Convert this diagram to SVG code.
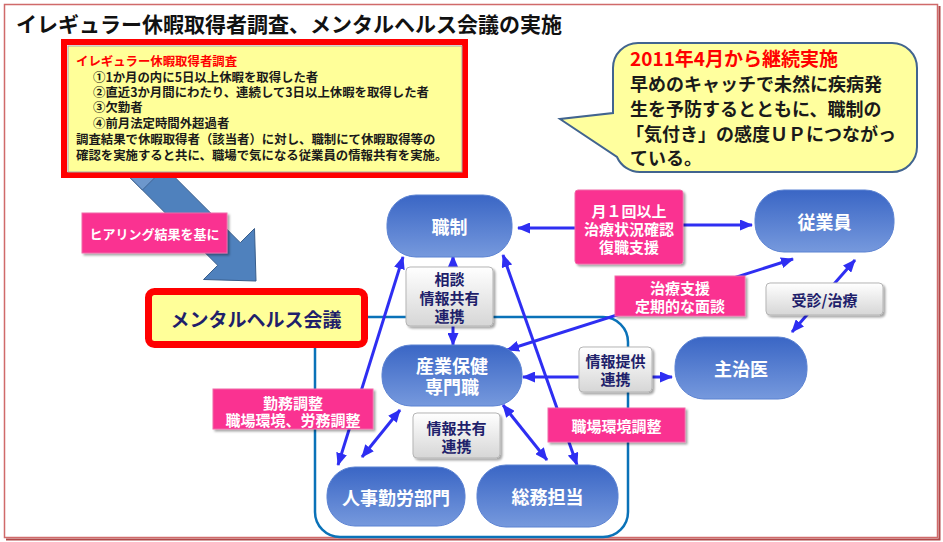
<svg xmlns="http://www.w3.org/2000/svg" width="943" height="542" viewBox="0 0 943 542">
<defs>
<style>
text{font-family:"Noto Sans CJK JP","Noto Sans",sans-serif;font-weight:bold;dominant-baseline:central}
.node rect{fill:url(#ng);stroke:#5b82d2;stroke-width:1}
.node text{fill:#fff;font-size:18px;text-anchor:middle}
.pink rect{fill:#fa3391;stroke:#f06aa8;stroke-width:1;filter:url(#sh)}
.pink text{fill:#fff;font-size:15px;text-anchor:middle}
.gray rect{fill:url(#gg);stroke:#b5b5b5;stroke-width:1;filter:url(#sh)}
.gray text{fill:#1f1f6b;font-size:15px;text-anchor:middle}
.conn line{stroke:#2e2ef2;stroke-width:3;fill:none}
.sv{font-size:12.4px;fill:#1a1a1a}
.co{font-size:18px;fill:#1a1a1a}
</style>
<linearGradient id="ng" x1="0" y1="0" x2="0" y2="1">
<stop offset="0" stop-color="#3a66c5"/>
<stop offset="1" stop-color="#7699dd"/>
</linearGradient>
<linearGradient id="gg" x1="0" y1="0" x2="0" y2="1">
<stop offset="0" stop-color="#ffffff"/>
<stop offset="1" stop-color="#d6d6d6"/>
</linearGradient>
<filter id="sh" x="-10%" y="-10%" width="130%" height="140%">
<feDropShadow dx="2" dy="2" stdDeviation="1" flood-color="#000" flood-opacity="0.35"/>
</filter>
<marker id="ah" viewBox="0 0 13 11" refX="12" refY="5.5" markerWidth="13" markerHeight="11" orient="auto-start-reverse" markerUnits="userSpaceOnUse">
<path d="M0,0 L13,5.5 L0,11 Z" fill="#2e2ef2"/>
</marker>
</defs>

<rect x="0" y="0" width="943" height="542" fill="#fff"/>
<!-- outer frame -->
<rect x="4.5" y="4.5" width="933" height="533" fill="none" stroke="#d06a6a" stroke-width="1.5"/>
<polyline points="939.5,6 939.5,539.5 6,539.5" fill="none" stroke="#b04848" stroke-width="2"/>

<text x="16" y="23" font-size="21" fill="#111">イレギュラー休暇取得者調査、メンタルヘルス会議の実施</text>

<!-- big blue arrow -->
<g id="big-arrow">
<polygon points="150.3,152.7 240.3,242.7 254.5,228.5 256,281 203.5,279.5 217.7,265.3 127.7,175.3" fill="#4f81bd" stroke="#385d8a" stroke-width="1"/>
<polygon points="150.3,152.7 165,167.4 142.4,190 127.7,175.3" fill="#6d97cc" stroke="#385d8a" stroke-width="0.8"/>
</g>

<!-- survey box -->
<g id="n-survey">
<rect x="64" y="42" width="401" height="133" fill="#fff" stroke="#ff0000" stroke-width="6"/>
<rect x="68" y="46" width="394" height="126" fill="#ffff99" stroke="#a6a6a6" stroke-width="1"/>
<text x="76" y="61" class="sv" style="fill:#ff0000">イレギュラー休暇取得者調査</text>
<text x="93" y="77" class="sv">①1か月の内に5日以上休暇を取得した者</text>
<text x="93" y="92" class="sv">②直近3か月間にわたり、連続して3日以上休暇を取得した者</text>
<text x="93" y="107" class="sv">③欠勤者</text>
<text x="93" y="123" class="sv">④前月法定時間外超過者</text>
<text x="76" y="139" class="sv">調査結果で休暇取得者（該当者）に対し、職制にて休暇取得等の</text>
<text x="76" y="155" class="sv">確認を実施すると共に、職場で気になる従業員の情報共有を実施。</text>
</g>

<!-- callout -->
<g id="n-callout">
<path d="M638,43 H892 A25,25 0 0 1 917,68 V147 A25,25 0 0 1 892,172 H640 A25,25 0 0 1 617,157 L560,119 L613,113 V68 A25,25 0 0 1 638,43 Z" fill="#ffff9e" stroke="#41648f" stroke-width="2"/>
<text x="630" y="57" font-size="19" fill="#ff0000">2011年4月から継続実施</text>
<text x="630" y="83" class="co">早めのキャッチで未然に疾病発</text>
<text x="630" y="108" class="co">生を予防するとともに、職制の</text>
<text x="626" y="133" class="co">「気付き」の感度ＵＰにつながっ</text>
<text x="630" y="157" class="co">ている。</text>
</g>

<!-- hearing label -->
<g id="l-hearing" class="pink">
<rect x="82" y="213" width="145" height="40"/>
<text x="154.5" y="233" style="font-size:13px">ヒアリング結果を基に</text>
</g>

<!-- container -->
<rect id="container" x="315" y="317" width="313" height="220" rx="25" fill="none" stroke="#0a72b8" stroke-width="2.5"/>

<!-- connectors -->
<g id="connectors" class="conn">
<line x1="575" y1="228" x2="518" y2="228" marker-end="url(#ah)"/>
<line x1="683" y1="225" x2="752" y2="225" marker-end="url(#ah)"/>
<line x1="453" y1="256" x2="453" y2="345" marker-start="url(#ah)" marker-end="url(#ah)"/>
<line x1="403" y1="257" x2="338" y2="465" marker-start="url(#ah)" marker-end="url(#ah)"/>
<line x1="503" y1="255" x2="577" y2="465" marker-start="url(#ah)" marker-end="url(#ah)"/>
<line x1="507" y1="350" x2="793" y2="259" marker-start="url(#ah)" marker-end="url(#ah)"/>
<line x1="855" y1="260" x2="792" y2="332" marker-start="url(#ah)" marker-end="url(#ah)"/>
<line x1="523" y1="377" x2="672" y2="377" marker-start="url(#ah)" marker-end="url(#ah)"/>
<line x1="400" y1="410" x2="362" y2="457" marker-start="url(#ah)" marker-end="url(#ah)"/>
<line x1="503" y1="405" x2="547" y2="460" marker-start="url(#ah)" marker-end="url(#ah)"/>
</g>

<!-- nodes -->
<g id="n-shokusei" class="node"><rect x="387" y="195" width="125" height="62" rx="29"/><text x="449.5" y="226">職制</text></g>
<g id="n-jugyoin" class="node"><rect x="755" y="190" width="139" height="62" rx="29"/><text x="824.5" y="221">従業員</text></g>
<g id="n-sangyo" class="node"><rect x="382" y="345" width="140" height="61" rx="29"/><text x="452" y="365">産業保健</text><text x="452" y="386">専門職</text></g>
<g id="n-shujii" class="node"><rect x="675" y="337" width="132" height="62" rx="29"/><text x="741" y="368">主治医</text></g>
<g id="n-jinji" class="node"><rect x="327" y="467" width="138" height="59" rx="28"/><text x="396" y="497">人事勤労部門</text></g>
<g id="n-somu" class="node"><rect x="477" y="465" width="141" height="62" rx="29"/><text x="547.5" y="496">総務担当</text></g>

<!-- labels -->
<g id="l-soudan" class="gray"><rect x="406" y="267" width="87" height="59" rx="4"/><text x="449.5" y="278">相談</text><text x="449.5" y="297">情報共有</text><text x="449.5" y="315">連携</text></g>
<g id="l-kyoyu" class="gray"><rect x="413" y="413" width="87" height="45" rx="4"/><text x="456.5" y="427">情報共有</text><text x="456.5" y="445">連携</text></g>
<g id="l-teikyo" class="gray"><rect x="579" y="347" width="73" height="45" rx="4"/><text x="615.5" y="360">情報提供</text><text x="615.5" y="378">連携</text></g>
<g id="l-jushin" class="gray"><rect x="766" y="283" width="117" height="32" rx="4"/><text x="824.5" y="299">受診/治療</text></g>
<g id="l-tsuki" class="pink"><rect x="575" y="190" width="108" height="74" rx="3"/><text x="629" y="210">月１回以上</text><text x="629" y="228">治療状況確認</text><text x="629" y="246">復職支援</text></g>
<g id="l-chiryo" class="pink"><rect x="615" y="276" width="130" height="40"/><text x="680" y="287">治療支援</text><text x="680" y="305">定期的な面談</text></g>
<g id="l-shokuba" class="pink"><rect x="548" y="408" width="137" height="34"/><text x="616.5" y="425">職場環境調整</text></g>
<g id="l-kinmu" class="pink"><rect x="213" y="389" width="160" height="40"/><text x="293" y="402">勤務調整</text><text x="293" y="419">職場環境、労務調整</text></g>

<!-- mental health meeting -->
<g id="n-kaigi">
<rect x="148.5" y="291.5" width="216" height="53" rx="6" fill="#ffff99" stroke="#ff0000" stroke-width="7"/>
<text x="256" y="318" font-size="19" fill="#1f1f6b" text-anchor="middle">メンタルヘルス会議</text>
</g>
</svg>
